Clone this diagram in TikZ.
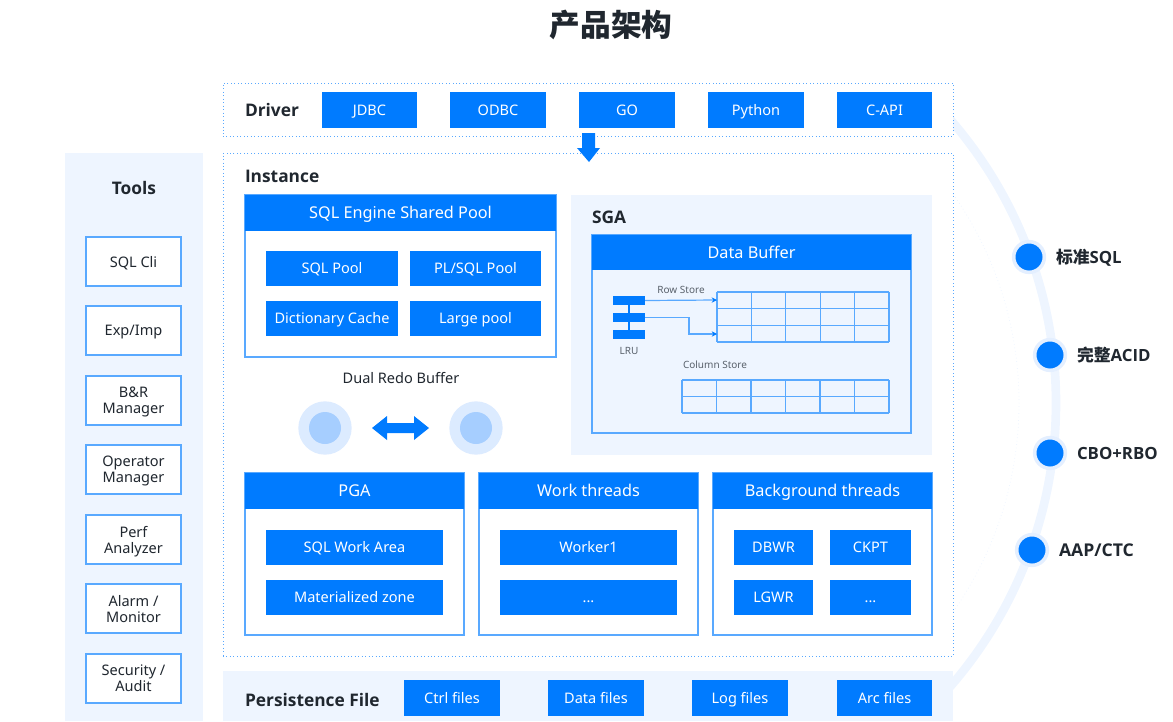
\documentclass[tikz,border=0pt]{standalone}
\usepackage{fontspec}
\setmainfont{Noto Sans}
\newfontfamily\cjk{Noto Sans CJK SC}
\newfontfamily\midfont{Noto Sans}
\newfontfamily\heavyfam{Open Sans}
\newcommand\heavyfont{\heavyfam\bfseries}
\definecolor{brand}{HTML}{007BFF}
\definecolor{pale}{HTML}{EEF5FF}
\definecolor{edge}{HTML}{59A9FF}
\definecolor{ink}{HTML}{20272F}
\definecolor{soft}{HTML}{5A626C}
\definecolor{halo}{HTML}{DCEBFF}
\definecolor{dothalo}{HTML}{E4EFFF}
\definecolor{innerdot}{HTML}{A6CEFF}
\newcommand\pxfont[1]{\fontsize{#1}{#1}\selectfont}
\tikzset{
  x=0.75pt,y=-0.75pt,
  every node/.style={inner sep=0pt,outer sep=0pt},
  solidbox/.style={fill=brand,text=white,text height=7.6pt,text depth=0pt,font=\midfont\pxfont{10.9}},
  headbox/.style={fill=brand,text=white,text height=8.4pt,text depth=0pt,font=\midfont\pxfont{12.2}},
  linebox/.style={draw=edge,line width=0.8pt,fill=white,text=ink,align=center,text depth=0pt,font=\midfont\fontsize{10.9}{12}\selectfont},
  outerbox/.style={draw=edge,line width=0.8pt,fill=white},
  panel/.style={fill=pale},
  dotbox/.style={draw=edge,dotted,line width=0.6pt,fill=white},
  tablebox/.style={draw=edge,line width=0.8pt},
  heading/.style={font=\heavyfont\pxfont{13},text=ink,anchor=west},
  tiny/.style={font=\pxfont{7.5},text=soft},
  feature/.style={font=\heavyfont\pxfont{12.6},text=ink,anchor=west},
  featuredot/.style={circle,fill=brand,draw=dothalo,line width=2.7pt,minimum size=23pt},
  lruwire/.style={draw=edge,line width=0.9pt},
  lruarrow/.style={lruwire,-{Stealth[length=4pt,width=4pt,color=brand]}},
}
\newcommand\pxbox[7][]{%
  \pgfmathsetmacro\bw{(#5-#3)*0.75}%
  \pgfmathsetmacro\bh{(#6-#4)*0.75}%
  \node[#1,minimum width=\bw pt,minimum height=\bh pt] (#2) at ({(#3+#5)/2},{(#4+#6)/2}) {#7};%
}
\usetikzlibrary{arrows.meta}
\begin{document}
\begin{tikzpicture}
\useasboundingbox (0,0) rectangle (1173,721);
% background arcs
\coordinate (arcc) at (623,403);
\coordinate (arci) at (655,403);
\draw[pale,line width=6.5pt] ([shift={(-42:324.75pt)}]arcc) arc[start angle=-42,end angle=42,radius=324.75pt];
\draw[pale,dotted,line width=0.6pt] ([shift={(-35:273pt)}]arci) arc[start angle=-35,end angle=35,radius=273pt];
% title
\node[font=\pxfont{23}\cjk\bfseries,text=ink] (title) at (611,25) {产品架构};
% tools
\pxbox[panel]{toolsp}{65}{153}{203}{721}{}
\node[font=\heavyfont\pxfont{13},text=ink] (toolsl) at (134,188) {Tools};
\pxbox[linebox]{t1}{86}{237}{181}{286}{SQL Cli}
\pxbox[linebox]{t2}{86}{306}{181}{355}{Exp/Imp}
\pxbox[linebox]{t3}{86}{376}{181}{425}{B\&R\\Manager}
\pxbox[linebox]{t4}{86}{445}{181}{494}{Operator\\Manager}
\pxbox[linebox]{t5}{86}{515}{181}{564}{Perf\\Analyzer}
\pxbox[linebox]{t6}{86}{584}{181}{633}{Alarm /\\Monitor}
\pxbox[linebox]{t7}{86}{654}{181}{703}{Security /\\Audit}
% driver
\pxbox[dotbox]{driver}{223}{83}{953}{136}{}
\node[heading] (driverl) at (245,110) {Driver};
\pxbox[solidbox]{d1}{322}{92}{417}{128}{JDBC}
\pxbox[solidbox]{d2}{450}{92}{546}{128}{ODBC}
\pxbox[solidbox]{d3}{579}{92}{675}{128}{GO}
\pxbox[solidbox]{d4}{708}{92}{804}{128}{Python}
\pxbox[solidbox]{d5}{837}{92}{932}{128}{C-API}
% instance
\pxbox[dotbox]{inst}{223}{153}{953}{656}{}
\node[heading] (instl) at (245,176) {Instance};
\fill[brand] (582,133) -- (595,133) -- (595,148) -- (600,148) -- (589,162) -- (577,148) -- (582,148) -- cycle;
% SQL engine
\pxbox[outerbox]{sqlo}{245}{195}{556}{357}{}
\pxbox[headbox]{sqlh}{245}{195}{556}{231}{SQL Engine Shared Pool}
\pxbox[solidbox]{s1}{266}{251}{398}{286}{SQL Pool}
\pxbox[solidbox]{s2}{410}{251}{541}{286}{PL/SQL Pool}
\pxbox[solidbox]{s3}{266}{301}{398}{336}{Dictionary Cache}
\pxbox[solidbox]{s4}{410}{301}{541}{336}{Large pool}
% SGA
\pxbox[panel]{sga}{571}{195}{932}{455}{}
\node[heading] (sgal) at (592,217) {SGA};
\pxbox[outerbox,fill=pale]{dbo}{592}{235}{911}{433}{}
\pxbox[headbox]{dbh}{592}{235}{911}{270}{Data Buffer}
\pxbox[fill=brand]{b1}{613}{296}{645}{305}{}
\pxbox[fill=brand]{b2}{613}{313}{645}{322}{}
\pxbox[fill=brand]{b3}{613}{330}{645}{339}{}
\draw[lruwire,draw=brand] (b1) -- (b2);
\draw[lruwire,draw=brand] (b2) -- (b3);
\node[tiny] (lrul) at (629,351) {LRU};
\node[tiny] (rowl) at (681,290) {Row Store};
\node[tiny] (coll) at (715,365) {Column Store};
\foreach \xx in {717,751.4,785.8,820.2,854.6,889} \draw[tablebox] (\xx,292) -- (\xx,342);
\foreach \yy in {292,308.7,325.3,342} \draw[tablebox] (717,\yy) -- (889,\yy);
\foreach \xx in {682,716.5,751,785.5,820,854.5,889} \draw[tablebox] (\xx,380) -- (\xx,413);
\foreach \yy in {380,396.5,413} \draw[tablebox] (682,\yy) -- (889,\yy);
\coordinate (r1) at (717,300);
\coordinate (r2) at (717,334);
\coordinate (elbow) at (689,325);
\draw[lruarrow] (b1.east) -- (r1);
\draw[lruarrow] (b2.east) -| (elbow) |- (r2);
% redo buffer
\node[font=\midfont\pxfont{10.9},text=ink] (redol) at (401,378) {Dual Redo Buffer};
\node[circle,fill=halo,minimum size=40pt] (c1o) at (325,428) {};
\node[circle,fill=innerdot,minimum size=24pt] (c1i) at (325,428) {};
\node[circle,fill=halo,minimum size=40pt] (c2o) at (476,428) {};
\node[circle,fill=innerdot,minimum size=24pt] (c2i) at (476,428) {};
\fill[brand] (372,428) -- (387,416) -- (387,423) -- (414,423) -- (414,416) -- (429,428) -- (414,440) -- (414,433) -- (387,433) -- (387,440) -- cycle;
% PGA
\pxbox[outerbox]{pgao}{245}{473}{464}{635}{}
\pxbox[headbox]{pgah}{245}{473}{464}{509}{PGA}
\pxbox[solidbox]{p1}{266}{530}{443}{565}{SQL Work Area}
\pxbox[solidbox]{p2}{266}{580}{443}{615}{Materialized zone}
% work threads
\pxbox[outerbox]{wo}{479}{473}{698}{635}{}
\pxbox[headbox]{wh}{479}{473}{698}{509}{Work threads}
\pxbox[solidbox]{w1}{500}{530}{677}{565}{Worker1}
\pxbox[solidbox]{w2}{500}{580}{677}{615}{...}
% background threads
\pxbox[outerbox]{bgo}{713}{473}{932}{635}{}
\pxbox[headbox]{bgh}{713}{473}{932}{509}{Background threads}
\pxbox[solidbox]{g1}{734}{530}{813}{565}{DBWR}
\pxbox[solidbox]{g2}{830}{530}{911}{565}{CKPT}
\pxbox[solidbox]{g3}{734}{580}{813}{615}{LGWR}
\pxbox[solidbox]{g4}{830}{580}{911}{615}{...}
% persistence
\pxbox[panel]{pers}{223}{671}{953}{721}{}
\node[heading] (persl) at (245,700) {Persistence File};
\pxbox[solidbox]{f1}{404}{680}{500}{716}{Ctrl files}
\pxbox[solidbox]{f2}{548}{680}{644}{716}{Data files}
\pxbox[solidbox]{f3}{692}{680}{788}{716}{Log files}
\pxbox[solidbox]{f4}{837}{680}{932}{716}{Arc files}
% features
\node[featuredot] (q1) at (1029,257) {};
\node[featuredot] (q2) at (1050,355) {};
\node[featuredot] (q3) at (1050,453) {};
\node[featuredot] (q4) at (1032,550) {};
\node[feature] (l1) at (1056,258) {{\cjk\bfseries 标准}SQL};
\node[feature] (l2) at (1077,355) {{\cjk\bfseries 完整}ACID};
\node[feature] (l3) at (1077,453) {CBO+RBO};
\node[feature,font=\heavyfont\pxfont{13.2}] (l4) at (1059,550) {AAP/CTC};
\end{tikzpicture}
\end{document}
